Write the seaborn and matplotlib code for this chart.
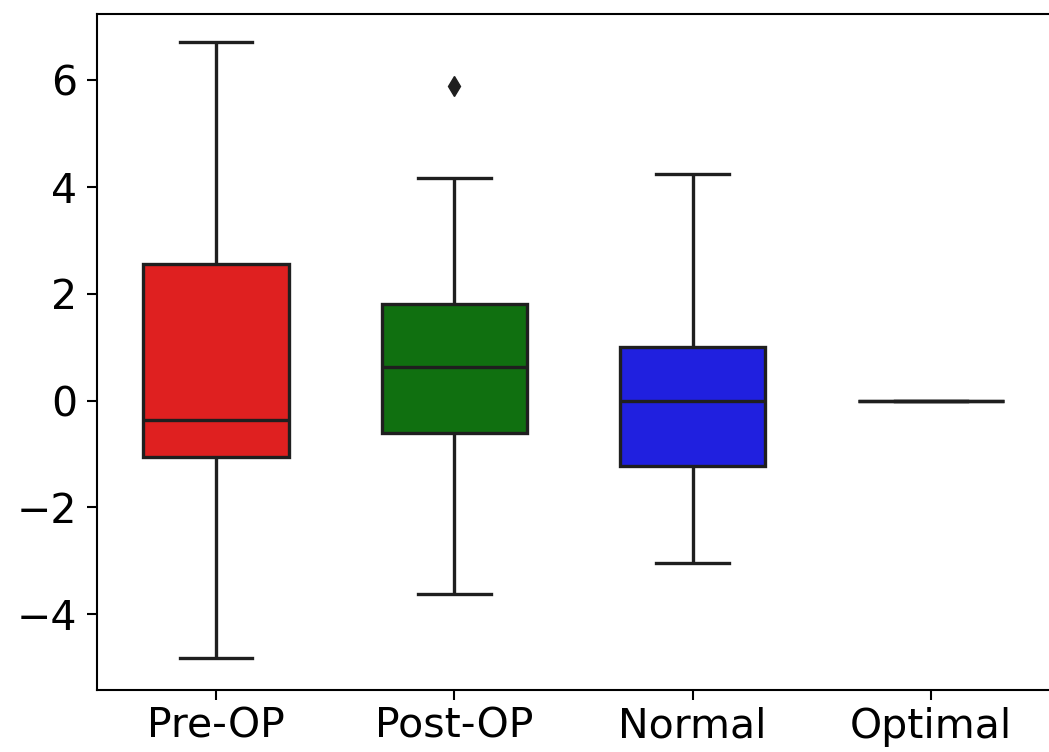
import pandas as pd
import matplotlib
matplotlib.use('Agg')
import matplotlib.pyplot as plt
import seaborn as sns

GROUPS = ['Pre-OP', 'Post-OP', 'Normal', 'Optimal']

# values (min, q1, median, q3, max, outliers)
PRE_OP = [-4.82, -1.06, -0.37, 2.55, 6.71]
POST_OP = [-3.62, -0.61, -0.61, 0.63, 0.63, 1.81, 1.81, 4.16, 5.90]
NORMAL = [-3.04, -1.23, 0.0, 1.0, 4.24]
OPTIMAL = [0.0, 0.0, 0.0, 0.0, 0.0]

COLORS = ['red', 'green', 'blue', 'gray']


def build_frame():
    rows = []
    for name, vals in zip(GROUPS, [PRE_OP, POST_OP, NORMAL, OPTIMAL]):
        for v in vals:
            rows.append({'group': name, 'value': v})
    return pd.DataFrame(rows)


def main():
    df = build_frame()
    fig = plt.figure(figsize=(10.49, 7.52), dpi=100)
    ax = fig.add_axes([0.0925, 0.0824, 0.9085, 0.899])

    sns.boxplot(data=df, x='group', y='value', hue='group', order=GROUPS,
                palette=dict(zip(GROUPS, COLORS)), width=0.61,
                linecolor='0.12', linewidth=2.4, legend=False,
                flierprops=dict(marker='d', markersize=10,
                                markerfacecolor='0.12',
                                markeredgecolor='0.12'),
                ax=ax)

    ax.set_ylim(-5.42, 7.24)
    ax.set_yticks([-4, -2, 0, 2, 4, 6])
    ax.set_xlabel('')
    ax.set_ylabel('')
    ax.tick_params(labelsize=29.5, length=7, width=1.5, pad=7)
    ax.tick_params(axis='x', pad=5)
    for s in ax.spines.values():
        s.set_linewidth(1.5)

    fig.savefig('out.png', dpi=100)


if __name__ == '__main__':
    main()
